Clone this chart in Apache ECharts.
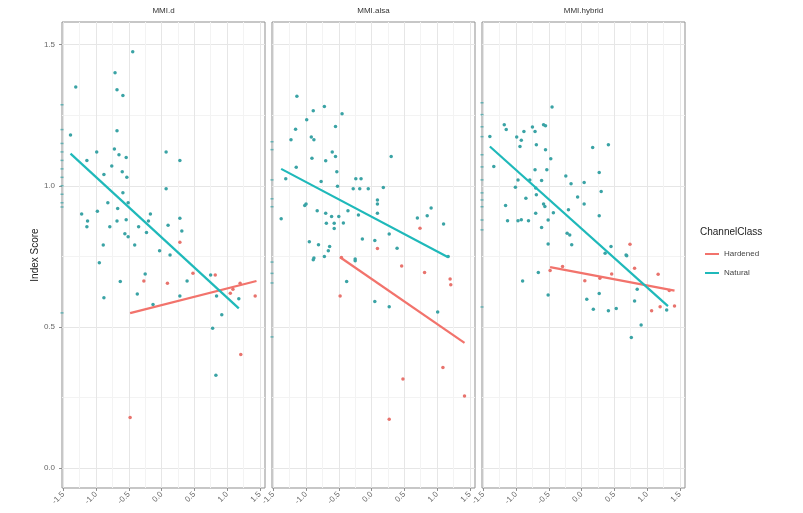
<!DOCTYPE html>
<html>
<head>
<meta charset="utf-8">
<script src="https://cdn.jsdelivr.net/npm/echarts@6/dist/echarts.min.js"></script>
<style>
html,body{margin:0;padding:0;background:#fff;}
#chart{width:803px;height:513px;}
</style>
</head>
<body>
<div id="chart"></div>
<script>
// ---- data ----
const panels = ['MMI.d', 'MMI.alsa', 'MMI.hybrid'];
const classes = ['Hardened', 'Natural'];
const xTicks = [-1.5, -1.0, -0.5, 0.0, 0.5, 1.0, 1.5];
const xMinorTicks = [-1.25, -0.75, -0.25, 0.25, 0.75, 1.25];
const yTicks = [0.0, 0.5, 1.0, 1.5];
const yMinorTicks = [0.25, 0.75, 1.25];

// MMI.d
const dNatural = [[-1.39,1.18],[-1.31,1.35],[-0.44,1.475],[-0.71,1.40],[-0.68,1.34],[-0.59,1.32],[-0.68,1.195],[-0.99,1.12],[-1.14,1.09],[-0.72,1.13],[-0.65,1.11],[-0.54,1.10],[-0.76,1.07],[0.07,1.12],[0.28,1.09],[-0.88,1.04],[-0.60,1.05],[-0.53,1.03],[-0.59,0.975],[0.07,0.99],[-0.51,0.94],[-0.82,0.94],[-0.67,0.92],[-0.98,0.91],[-1.22,0.90],[-1.13,0.875],[-1.14,0.855],[-0.68,0.875],[-0.54,0.88],[-0.79,0.855],[-0.35,0.855],[-0.17,0.90],[-0.20,0.875],[0.10,0.86],[0.28,0.885],[-0.56,0.83],[-0.51,0.82],[-0.89,0.79],[-0.41,0.79],[-0.23,0.835],[0.31,0.84],[-0.03,0.77],[0.13,0.755],[-0.95,0.728],[-0.25,0.688],[-0.63,0.661],[0.39,0.663],[0.75,0.684],[-0.37,0.617],[-0.88,0.604],[-0.13,0.58],[0.28,0.61],[0.84,0.61],[0.92,0.543],[0.78,0.496],[0.83,0.329],[1.18,0.60]];
const dHardened = [[-0.48,0.18],[-0.27,0.663],[0.09,0.655],[0.28,0.80],[0.48,0.69],[0.82,0.684],[1.05,0.62],[1.09,0.634],[1.20,0.655],[1.21,0.403],[1.43,0.61]];
const dRug = [1.287,1.199,1.15,1.12,1.09,1.06,1.03,1.0,0.97,0.94,0.925,0.55];

// MMI.alsa
const alsaNatural = [[-1.14,1.317],[-0.89,1.266],[-0.72,1.281],[-0.45,1.255],[-0.99,1.234],[-0.55,1.21],[-1.16,1.20],[-1.23,1.163],[-0.92,1.173],[-0.88,1.163],[-0.60,1.12],[-0.55,1.104],[-0.91,1.098],[-0.70,1.089],[0.30,1.104],[-1.15,1.066],[-1.31,1.025],[-0.77,1.015],[-0.53,1.05],[-0.24,1.025],[-0.16,1.025],[-0.52,0.998],[-0.28,0.99],[-0.18,0.99],[-0.05,0.99],[0.18,0.994],[-1.0,0.936],[-1.02,0.93],[0.09,0.95],[0.09,0.936],[-0.83,0.912],[-0.70,0.903],[-0.61,0.891],[-0.50,0.891],[-0.36,0.912],[-0.20,0.897],[0.09,0.903],[-1.38,0.883],[-0.69,0.867],[-0.57,0.867],[-0.43,0.868],[-0.57,0.849],[0.91,0.921],[0.85,0.894],[0.70,0.886],[1.10,0.865],[0.27,0.829],[-0.14,0.812],[0.05,0.806],[-0.95,0.802],[-0.81,0.791],[-0.64,0.785],[-0.66,0.77],[0.39,0.779],[-0.25,0.741],[-0.88,0.744],[-0.89,0.738],[-0.72,0.75],[-0.25,0.735],[-0.38,0.661],[0.05,0.59],[0.27,0.572],[1.01,0.553],[1.17,0.75]];
const alsaHardened = [[-0.46,0.746],[0.09,0.778],[0.74,0.85],[-0.48,0.61],[0.46,0.716],[0.81,0.693],[1.20,0.67],[1.21,0.65],[1.09,0.357],[0.48,0.316],[1.42,0.256],[0.27,0.173]];
const alsaRug = [1.156,1.128,1.021,0.954,0.926,0.73,0.69,0.656,0.465];

// MMI.hybrid
const hybridNatural = [[-0.45,1.279],[-1.18,1.216],[-1.15,1.199],[-0.88,1.192],[-0.75,1.208],[-0.71,1.192],[-0.58,1.216],[-0.55,1.213],[-1.40,1.175],[-0.99,1.173],[-0.92,1.161],[-0.69,1.145],[-0.94,1.139],[-0.55,1.128],[0.17,1.136],[0.41,1.145],[-0.47,1.096],[-1.34,1.068],[-0.71,1.057],[-0.53,1.057],[-0.24,1.035],[0.27,1.047],[-0.97,1.021],[-0.79,1.021],[-0.61,1.019],[-0.16,1.007],[0.04,1.012],[-1.01,0.995],[-0.70,0.992],[0.30,0.98],[-0.85,0.956],[-0.69,0.968],[-0.06,0.96],[-1.16,0.93],[-0.58,0.936],[-0.56,0.927],[-0.43,0.905],[0.04,0.936],[-0.20,0.915],[0.27,0.894],[-1.13,0.876],[-0.97,0.876],[-0.92,0.88],[-0.81,0.876],[-0.70,0.903],[-0.51,0.879],[-0.61,0.852],[-0.22,0.832],[-0.18,0.826],[-0.51,0.794],[-0.15,0.791],[0.45,0.785],[0.36,0.761],[0.68,0.755],[0.69,0.752],[-0.90,0.663],[-0.66,0.693],[-0.51,0.613],[0.27,0.619],[0.08,0.598],[0.18,0.563],[0.41,0.558],[0.53,0.566],[0.85,0.634],[0.81,0.592],[1.30,0.56],[0.91,0.507],[0.76,0.463]];
const hybridHardened = [[-0.48,0.70],[-0.29,0.714],[0.05,0.664],[0.28,0.673],[0.46,0.688],[0.74,0.793],[0.81,0.708],[1.17,0.687],[1.34,0.629],[1.07,0.558],[1.20,0.572],[1.42,0.574]];
const hybridRug = [1.294,1.252,1.209,1.174,1.11,1.067,1.021,0.975,0.95,0.926,0.879,0.844,0.571];

// linear fit endpoints
const dFitNatural = [[-1.39,1.114],[1.18,0.566]];
const dFitHardened = [[-0.48,0.549],[1.45,0.663]];
const alsaFitNatural = [[-1.38,1.06],[1.17,0.747]];
const alsaFitHardened = [[-0.48,0.747],[1.42,0.444]];
const hybridFitNatural = [[-1.40,1.139],[1.32,0.574]];
const hybridFitHardened = [[-0.48,0.712],[1.42,0.629]];

// ---- chart ----
const lineColors = { Hardened: '#F2736C', Natural: '#1FB9BA' };
const pointColors = { Hardened: '#E8736D', Natural: '#3AA3A5' };
const X_MIN = -1.52, X_MAX = 1.58, Y_MIN = -0.07, Y_MAX = 1.58;
const panelData = [
  { nat: dNatural, hard: dHardened, rug: dRug, fitN: dFitNatural, fitH: dFitHardened },
  { nat: alsaNatural, hard: alsaHardened, rug: alsaRug, fitN: alsaFitNatural, fitH: alsaFitHardened },
  { nat: hybridNatural, hard: hybridHardened, rug: hybridRug, fitN: hybridFitNatural, fitH: hybridFitHardened }
];
const gridLefts = [62, 272, 482];
const gridW = 203, gridTop = 22, gridH = 466;
const FONT = 'Liberation Sans, Arial, sans-serif';

const grids = [], xAxes = [], yAxes = [], series = [], graphics = [];
const fmt = v => Number(v).toFixed(1);

panels.forEach((p, i) => {
  grids.push({ left: gridLefts[i], top: gridTop, width: gridW, height: gridH,
    show: true, borderColor: '#8f8f8f', borderWidth: 1, backgroundColor: 'transparent' });
  // major x
  xAxes.push({ gridIndex: i, type: 'value', min: X_MIN, max: X_MAX, position: 'bottom',
    axisLine: { show: false, onZero: false },
    axisTick: { show: true, length: 3, customValues: xTicks, lineStyle: { color: '#8f8f8f' } },
    axisLabel: { customValues: xTicks, rotate: 45, margin: 5, fontSize: 8, color: '#666',
      fontFamily: FONT, formatter: fmt },
    splitLine: { show: true, lineStyle: { color: '#e6e6e6', width: 1 } } });
  // minor x (grid lines only)
  xAxes.push({ gridIndex: i, type: 'value', min: X_MIN, max: X_MAX, position: 'bottom',
    axisLine: { show: false, onZero: false },
    axisTick: { show: false, customValues: xMinorTicks },
    axisLabel: { show: false, customValues: xMinorTicks },
    splitLine: { show: true, lineStyle: { color: '#f3f3f3', width: 1 } } });
  // major y
  yAxes.push({ gridIndex: i, type: 'value', min: Y_MIN, max: Y_MAX, position: 'left',
    axisLine: { show: false, onZero: false },
    axisTick: { show: i === 0, length: 3, customValues: yTicks, lineStyle: { color: '#8f8f8f' } },
    axisLabel: { show: i === 0, customValues: yTicks, margin: 7, fontSize: 8, color: '#666',
      fontFamily: FONT, formatter: fmt },
    splitLine: { show: true, lineStyle: { color: '#e6e6e6', width: 1 } },
    name: i === 0 ? 'Index Score' : '', nameLocation: 'middle', nameGap: 20, nameRotate: 90,
    nameTextStyle: { fontSize: 10, color: '#222', fontFamily: FONT } });
  // minor y (grid lines only)
  yAxes.push({ gridIndex: i, type: 'value', min: Y_MIN, max: Y_MAX, position: 'left',
    axisLine: { show: false, onZero: false },
    axisTick: { show: false, customValues: yMinorTicks },
    axisLabel: { show: false, customValues: yMinorTicks },
    splitLine: { show: true, lineStyle: { color: '#f3f3f3', width: 1 } } });

  const xi = 2 * i, yi = 2 * i;
  const d = panelData[i];
  series.push({ name: 'Hardened', type: 'scatter', xAxisIndex: xi, yAxisIndex: yi, data: d.hard,
    symbolSize: 3.5, itemStyle: { color: pointColors.Hardened, opacity: 1 }, z: 3 });
  series.push({ name: 'Natural', type: 'scatter', xAxisIndex: xi, yAxisIndex: yi, data: d.nat,
    symbolSize: 3.5, itemStyle: { color: pointColors.Natural, opacity: 1 }, z: 3 });
  series.push({ name: 'rug', type: 'scatter', xAxisIndex: xi, yAxisIndex: yi, clip: false,
    data: d.rug.map(v => [X_MIN, v]), symbol: 'rect', symbolSize: [3, 1.5],
    itemStyle: { color: '#4aa9ab' }, z: 4 });
  series.push({ name: 'Hardened', type: 'line', xAxisIndex: xi, yAxisIndex: yi, data: d.fitH,
    symbol: 'none', lineStyle: { color: lineColors.Hardened, width: 2.2 }, z: 5 });
  series.push({ name: 'Natural', type: 'line', xAxisIndex: xi, yAxisIndex: yi, data: d.fitN,
    symbol: 'none', lineStyle: { color: lineColors.Natural, width: 2.2 }, z: 5 });

  graphics.push({ type: 'text', x: gridLefts[i] + gridW / 2, y: 7,
    style: { text: p, textAlign: 'center', fill: '#333', fontSize: 8, fontFamily: FONT } });
});

graphics.push({ type: 'text', x: 700, y: 227,
  style: { text: 'ChannelClass', fill: '#222', fontSize: 10, fontFamily: FONT } });

const chart = echarts.init(document.getElementById('chart'), null, { renderer: 'canvas' });
chart.setOption({
  animation: false,
  backgroundColor: '#ffffff',
  grid: grids,
  xAxis: xAxes,
  yAxis: yAxes,
  legend: {
    data: classes.map(c => ({ name: c, icon: 'rect', itemStyle: { color: lineColors[c] } })),
    orient: 'vertical', left: 700, top: 245, itemWidth: 14, itemHeight: 2, itemGap: 11,
    selectedMode: false,
    textStyle: { fontSize: 8, color: '#444', fontFamily: FONT }
  },
  graphic: graphics,
  series: series
});
</script>
</body>
</html>
